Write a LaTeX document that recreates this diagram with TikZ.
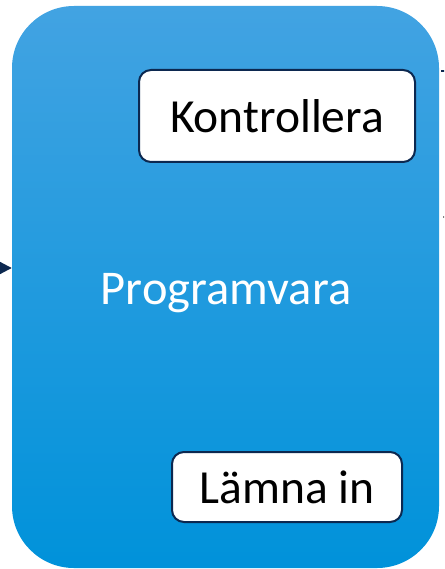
\documentclass[tikz,border=0pt]{standalone}
\usepackage{fontspec}
\setmainfont{Carlito}
\usepackage{tikz}
\usetikzlibrary{arrows.meta}

\definecolor{navy}{RGB}{12,40,80}
\definecolor{skytop}{RGB}{66,163,226}
\definecolor{skybot}{RGB}{0,146,218}

\begin{document}
\begin{tikzpicture}[x=1pt, y=-1pt,
  bignode/.style={rounded corners=62pt, top color=skytop, bottom color=skybot, draw=none, minimum width=427pt, minimum height=562pt, inner sep=0pt},
  boxnode/.style={draw=navy, line width=2pt, fill=white, rounded corners=12pt, inner sep=0pt, font=\fontsize{47.5}{52}\selectfont},
  labelnode/.style={text=white, font=\fontsize{48.5}{52}\selectfont}]
\useasboundingbox (0,0) rectangle (444,569);
\clip (0,0) rectangle (444,569);
%\hspace{-3cm}
\node[bignode] at (225.5, 287) (sw) {};
\node[labelnode] at (226, 293) (prog) {Programvara};
\node[boxnode, minimum width=276pt, minimum height=92pt] at (277, 116) (kontr) {Kontrollera};
\node[boxnode, minimum width=230pt, minimum height=70pt] at (287, 487) (inl) {Lämna in};
\coordinate (in) at (-20, 268);
\coordinate (out) at (460, 71);
\coordinate (out2) at (460, 217);
\draw[navy, line width=2pt, -{Triangle[length=12pt, width=12pt]}] (in) -- (in -| sw.west);
\draw[navy, line width=2pt] (sw.east |- out) ++(2,0) -- (out);
\draw[gray, line width=1.5pt] (sw.east |- out2) ++(4,0) -- (out2);
\end{tikzpicture}
\end{document}
